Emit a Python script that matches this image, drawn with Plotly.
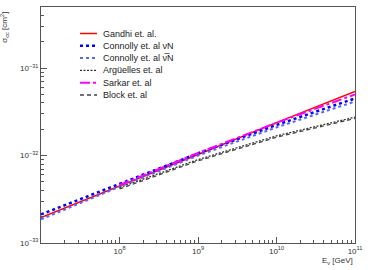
import plotly.graph_objects as go
import numpy as np

energy = [1e7, 1e8, 1e9, 1e10, 1e11]
energy_late = [1e8, 1e9, 1e10, 1e11]

gandhi = [1.95e-33, 4.45e-33, 1.03e-32, 2.38e-32, 5.4e-32]
connolly_nu = [2.12e-33, 4.7e-33, 1.06e-32, 2.24e-32, 4.5e-32]
connolly_nubar = [1.86e-33, 4.4e-33, 1.0e-32, 2.1e-32, 4.15e-32]
arguelles = [4.3e-33, 9.0e-33, 1.68e-32, 2.75e-32]
sarkar = [4.6e-33, 1.07e-32, 2.37e-32, 5.0e-32]
block = [4.15e-33, 8.7e-33, 1.62e-32, 2.66e-32]

names = ["Gandhi et. al.", "Connolly et. al \u03bdN", "Connolly et. al \u03bd\u0305N",
         "Arg\u00fcelles et. al", "Sarkar et. al", "Block et. al"]
colors = ["#ff0000", "#0000ff", "#5a64ff", "#333333", "#ff00ff", "#444444"]
dashes = ["solid", "dot", "dot", "2px,1.5px", "10px,3px,3px,3px", "4px,3px"]
widths = [1.5, 2.5, 2, 1.3, 2, 1.3]

x_major = [1e8, 1e9, 1e10, 1e11]
x_major_text = ["10<sup>8</sup>", "10<sup>9</sup>", "10<sup>10</sup>", "10<sup>11</sup>"]
y_major = [1e-33, 1e-32, 1e-31]
y_major_text = ["10<sup>\u221233</sup>", "10<sup>\u221232</sup>", "10<sup>\u221231</sup>"]

x_minor = [m * 10**d for d in range(7, 11) for m in range(2, 10)]
y_minor = [m * 10**d for d in range(-33, -30) for m in range(2, 10) if m * 10**d < 5.01e-31]

series_x = [energy, energy, energy, energy_late, energy_late, energy_late]
series_y = [gandhi, connolly_nu, connolly_nubar, arguelles, sarkar, block]

fig = go.Figure()
for xs, ys, nm, c, d, w in zip(series_x, series_y, names, colors, dashes, widths):
    fig.add_trace(go.Scatter(x=xs, y=ys, mode="lines", name=nm, showlegend=False,
                             line=dict(color=c, width=w, dash=d)))

# manual legend (ROOT-style, compact rows)
W, H = 374, 270
L, R, T, B = 41, 19, 7, 27
pw, ph = W - L - R, H - T - B
def px(x):
    return (x - L) / pw
def py(y):
    return 1 - (y - T) / ph

shapes = []
annotations = []
row0, step = 33.5, 12.3
for i, (nm, c, d, w) in enumerate(zip(names, colors, dashes, widths)):
    yy = row0 + i * step
    shapes.append(dict(type="line", xref="paper", yref="paper", x0=px(80), x1=px(97),
                       y0=py(yy), y1=py(yy), line=dict(color=c, width=w, dash=d)))
    annotations.append(dict(text=nm, xref="paper", yref="paper", x=px(101), y=py(yy),
                            xanchor="left", yanchor="middle", showarrow=False,
                            font=dict(size=9, color="#222222")))

axis_font = dict(family="Liberation Sans, Arial, sans-serif", size=8, color="#333333")

annotations += [
    dict(text="E<sub>\u03bd</sub> [GeV]", xref="paper", yref="paper", x=1.0, y=-0.078,
         xanchor="right", yanchor="middle", showarrow=False, font=axis_font),
    dict(text="\u03c3<sub>cc</sub> [cm<sup>2</sup>]", xref="paper", yref="paper", x=-0.115, y=0.99,
         xanchor="center", yanchor="top", textangle=-90, showarrow=False, font=axis_font),
]

fig.update_layout(
    width=W, height=H,
    margin=dict(l=L, r=R, t=T, b=B),
    paper_bgcolor="white", plot_bgcolor="white",
    font=dict(family="Liberation Sans, Arial, sans-serif", size=9, color="#222222"),
    showlegend=False,
    hovermode=False,
    xaxis=dict(type="log", range=[7, 11], showgrid=False, zeroline=False,
               showline=True, mirror=True, linecolor="#555555", linewidth=1,
               ticks="inside", ticklen=6, tickcolor="#555555",
               tickvals=x_major, ticktext=x_major_text, tickfont=axis_font,
               minor=dict(ticks="inside", ticklen=3, tickcolor="#555555", tickvals=x_minor, showgrid=False)),
    yaxis=dict(type="log", range=[-33, np.log10(5e-31)], showgrid=False, zeroline=False,
               showline=True, mirror=True, linecolor="#555555", linewidth=1,
               ticks="inside", ticklen=6, tickcolor="#555555",
               tickvals=y_major, ticktext=y_major_text, tickfont=axis_font,
               minor=dict(ticks="inside", ticklen=3, tickcolor="#555555", tickvals=y_minor, showgrid=False)),
    shapes=shapes,
    annotations=annotations,
)

fig.write_html("out.html", config={"displayModeBar": False},
               post_script="document.body.style.margin='0';document.body.style.overflow='hidden';")
